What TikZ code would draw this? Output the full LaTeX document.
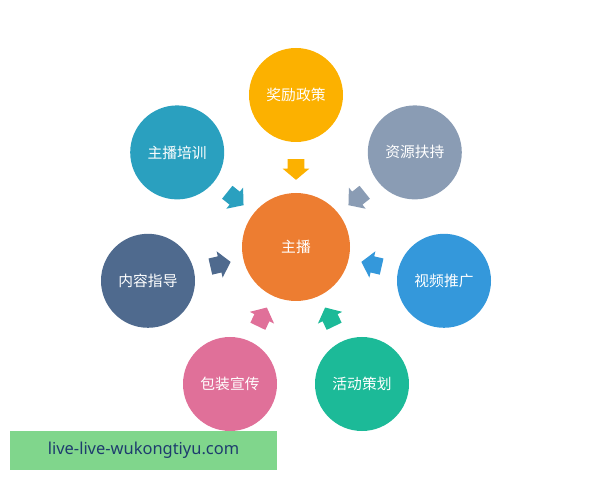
\documentclass[tikz,border=0pt]{standalone}
\usepackage{fontspec}
\setmainfont{Noto Sans}
\newfontfamily\cjk{Noto Sans CJK SC}
\usetikzlibrary{shapes.arrows}

\definecolor{hubor}{RGB}{237,125,49}
\definecolor{cyel}{RGB}{252,177,0}
\definecolor{cteal}{RGB}{42,160,191}
\definecolor{cgray}{RGB}{138,156,180}
\definecolor{cnavy}{RGB}{79,106,142}
\definecolor{cblue}{RGB}{52,152,219}
\definecolor{cpink}{RGB}{224,112,153}
\definecolor{cgreen}{RGB}{28,186,152}
\definecolor{wmgreen}{RGB}{128,214,140}
\definecolor{wmtext}{RGB}{30,60,110}

\begin{document}
\begin{tikzpicture}[
  bubble/.style={circle, minimum size=2.35cm, inner sep=0pt, text=white, font=\cjk\fontsize{10.5}{12}\selectfont},
  hub/.style={bubble, minimum size=2.7cm},
  feed/.style={single arrow, sloped, allow upside down, pos=0.47, minimum height=0.52cm, inner xsep=0pt, inner ysep=0.2cm, single arrow head extend=0.13cm, single arrow tip angle=100}
]
\useasboundingbox (0,0) rectangle (15,12);

\node[hub, fill=hubor] (host) at (7.4,5.825) {主播};

\node[bubble, fill=cyel] (reward) at (7.4,9.625) {奖励政策};
\node[bubble, fill=cteal] (train) at (4.43,8.19) {主播培训};
\node[bubble, fill=cnavy] (guide) at (3.70,4.98) {内容指导};
\node[bubble, fill=cpink] (promo) at (5.75,2.40) {包装宣传};
\node[bubble, fill=cgreen] (event) at (9.05,2.40) {活动策划};
\node[bubble, fill=cblue] (video) at (11.10,4.98) {视频推广};
\node[bubble, fill=cgray] (res) at (10.37,8.19) {资源扶持};

\path (reward) -- (host) node[feed, fill=cyel] {};
\path (train) -- (host) node[feed, fill=cteal] {};
\path (guide) -- (host) node[feed, fill=cnavy] {};
\path (promo) -- (host) node[feed, fill=cpink] {};
\path (event) -- (host) node[feed, fill=cgreen] {};
\path (video) -- (host) node[feed, fill=cblue] {};
\path (res) -- (host) node[feed, fill=cgray] {};

\node[fill=wmgreen, minimum width=6.675cm, minimum height=0.975cm, text=wmtext, font=\fontsize{11.7}{13}\selectfont] (site) at (3.5875,0.7375) {live-live-wukongtiyu.com};
\end{tikzpicture}
\end{document}
